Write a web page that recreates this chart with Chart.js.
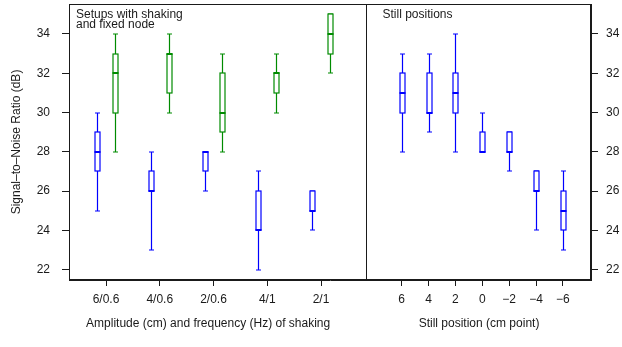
<!DOCTYPE html>
<html>
<head>
<meta charset="utf-8">
<script src="https://cdn.jsdelivr.net/npm/chart.js@4.4.1/dist/chart.umd.min.js"></script>
<style>
  html, body { margin: 0; padding: 0; background: #fff; }
  #c { display: block; }
</style>
</head>
<body>
<canvas id="c" width="622" height="347"></canvas>
<script>
// --- data ---
const shakeLabels = ['6/0.6', '4/0.6', '2/0.6', '4/1', '2/1'];
const stillLabels = ['6', '4', '2', '0', '\u22122', '\u22124', '\u22126'];
const yTickValues = [22, 24, 26, 28, 30, 32, 34];

// blue boxes, shaking setups
const shakeBlueMin = [25, 23, 26, 22, 24];
const shakeBlueQ1  = [27, 26, 27, 24, 25];
const shakeBlueMed = [28, 26, 28, 24, 25];
const shakeBlueQ3  = [29, 27, 28, 26, 26];
const shakeBlueMax = [30, 28, 28, 27, 26];

// green boxes, shaking setups with fixed node
const shakeGreenMin = [28, 30, 28, 30, 32];
const shakeGreenQ1  = [30, 31, 29, 31, 33];
const shakeGreenMed = [32, 33, 30, 32, 34];
const shakeGreenQ3  = [33, 33, 32, 32, 35];
const shakeGreenMax = [34, 34, 33, 33, 35];

// still positions
const stillMin = [28, 29, 28, 28, 27, 24, 23];
const stillQ1  = [30, 30, 30, 28, 28, 26, 24];
const stillMed = [31, 30, 31, 28, 28, 26, 25];
const stillQ3  = [32, 32, 32, 29, 29, 27, 26];
const stillMax = [33, 33, 34, 30, 29, 27, 27];

// --- layout in x-scale units (left panel every 2, right panel every 1) ---
const shakePos = shakeLabels.map((_, i) => 2 + 2 * i);
const stillPos = stillLabels.map((_, i) => 13 + i);
const xMin = 0.623, xMax = 20.046, divider = 11.674;
const pairShift = 1 / 3;

const BLUE = '#0000ff';
const GREEN = '#008b00';
const INK = '#1a1a1a';
const FONT = "'Liberation Sans', Arial, Helvetica, sans-serif";

Chart.defaults.font.family = FONT;
Chart.defaults.font.size = 12;
Chart.defaults.color = INK;

function boxes(pos, shift, mins, q1s, meds, q3s, maxs) {
    return pos.map((p, i) => ({
        x: p + shift, y: meds[i],
        min: mins[i], q1: q1s[i], med: meds[i], q3: q3s[i], max: maxs[i]
    }));
}

function labelFor(v) {
    let i = shakePos.indexOf(v);
    if (i >= 0) return shakeLabels[i];
    i = stillPos.indexOf(v);
    return i >= 0 ? stillLabels[i] : '';
}

// box & whisker painter, all coordinates from the chart scales
const boxPlugin = {
    id: 'boxes',
    afterDatasetsDraw(chart) {
        const ctx = chart.ctx;
        const xs = chart.scales.x, ys = chart.scales.y;
        const half = 2.5;
        ctx.save();
        chart.data.datasets.forEach(ds => {
            ctx.strokeStyle = ds.boxColor;
            ds.data.forEach(d => {
                const cx = Math.round(xs.getPixelForValue(d.x)) + 0.5;
                const yMin = Math.round(ys.getPixelForValue(d.min));
                const yQ1 = Math.round(ys.getPixelForValue(d.q1));
                const yMed = Math.round(ys.getPixelForValue(d.med));
                const yQ3 = Math.round(ys.getPixelForValue(d.q3));
                const yMax = Math.round(ys.getPixelForValue(d.max));
                ctx.lineWidth = 1.2;
                ctx.beginPath();
                // whiskers
                ctx.moveTo(cx, yMax); ctx.lineTo(cx, yQ3);
                ctx.moveTo(cx, yQ1); ctx.lineTo(cx, yMin);
                // staples
                ctx.moveTo(cx - half, yMax); ctx.lineTo(cx + half, yMax);
                ctx.moveTo(cx - half, yMin); ctx.lineTo(cx + half, yMin);
                ctx.stroke();
                // box
                ctx.fillStyle = '#fff';
                ctx.fillRect(cx - half, yQ3, 2 * half, yQ1 - yQ3);
                ctx.strokeRect(cx - half, yQ3, 2 * half, yQ1 - yQ3);
                // median
                ctx.lineWidth = 2;
                ctx.beginPath();
                ctx.moveTo(cx - half - 0.5, yMed); ctx.lineTo(cx + half + 0.5, yMed);
                ctx.stroke();
            });
        });
        ctx.restore();
    }
};

// frame, panel divider and panel / axis texts
const framePlugin = {
    id: 'frame',
    afterDraw(chart) {
        const ctx = chart.ctx;
        const a = chart.chartArea;
        const xs = chart.scales.x;
        ctx.save();
        ctx.strokeStyle = INK;
        ctx.lineWidth = 1;
        ctx.strokeRect(Math.round(a.left) + 0.5, Math.round(a.top) + 0.5,
            Math.round(a.right - a.left) - 1, Math.round(a.bottom - a.top) - 1);
        const dx = Math.round(xs.getPixelForValue(divider)) + 0.5;
        ctx.beginPath();
        ctx.moveTo(dx, a.top); ctx.lineTo(dx, a.bottom);
        ctx.stroke();

        ctx.fillStyle = INK;
        ctx.font = '12px ' + FONT;
        ctx.textBaseline = 'alphabetic';
        ctx.textAlign = 'left';
        ctx.fillText('Setups with shaking', a.left + 7, 18);
        ctx.fillText('and fixed node', a.left + 7, 28);
        ctx.fillText('Still positions', dx + 16, 18);

        ctx.textAlign = 'center';
        ctx.textBaseline = 'middle';
        ctx.fillText('Amplitude (cm) and frequency (Hz) of shaking', xs.getPixelForValue(5.8), 324);
        ctx.fillText('Still position (cm point)', xs.getPixelForValue(15.88), 324);
        ctx.restore();
    }
};

const yBase = {
    type: 'linear',
    min: 21.48,
    max: 35.52,
    afterBuildTicks: s => { s.ticks = yTickValues.map(v => ({ value: v })); },
    grid: { drawOnChartArea: false, tickLength: 7, color: INK },
    border: { color: INK }
};

new Chart(document.getElementById('c'), {
    type: 'scatter',
    data: {
        datasets: [
            { data: boxes(shakePos, -pairShift, shakeBlueMin, shakeBlueQ1, shakeBlueMed, shakeBlueQ3, shakeBlueMax), boxColor: BLUE },
            { data: boxes(shakePos, pairShift, shakeGreenMin, shakeGreenQ1, shakeGreenMed, shakeGreenQ3, shakeGreenMax), boxColor: GREEN },
            { data: boxes(stillPos, 0, stillMin, stillQ1, stillMed, stillQ3, stillMax), boxColor: BLUE }
        ]
    },
    options: {
        responsive: false,
        animation: false,
        layout: { padding: { top: 4, left: 0, right: 0, bottom: 0 } },
        elements: { point: { radius: 0, hoverRadius: 0 } },
        plugins: { legend: { display: false }, tooltip: { enabled: false } },
        scales: {
            x: {
                type: 'linear',
                min: xMin,
                max: xMax,
                afterBuildTicks: s => { s.ticks = shakePos.concat(stillPos).map(v => ({ value: v })); },
                ticks: { callback: v => labelFor(v), autoSkip: false, maxRotation: 0, padding: 6, color: INK },
                grid: { drawOnChartArea: false, tickLength: 6, color: INK },
                border: { color: INK },
                afterFit: s => { s.height = 67; s.paddingLeft = 0; s.paddingRight = 0; }
            },
            y: Object.assign({}, yBase, {
                position: 'left',
                ticks: { padding: 12, color: INK },
                title: { display: true, text: 'Signal\u2013to\u2013Noise Ratio (dB)', padding: { top: 9, bottom: 0 }, color: INK },
                afterFit: s => { s.width = 69; s.paddingTop = 0; s.paddingBottom = 0; }
            }),
            y2: Object.assign({}, yBase, {
                position: 'right',
                ticks: { padding: 8, color: INK },
                afterFit: s => { s.width = 31; s.paddingTop = 0; s.paddingBottom = 0; }
            })
        }
    },
    plugins: [boxPlugin, framePlugin]
});
</script>
</body>
</html>
